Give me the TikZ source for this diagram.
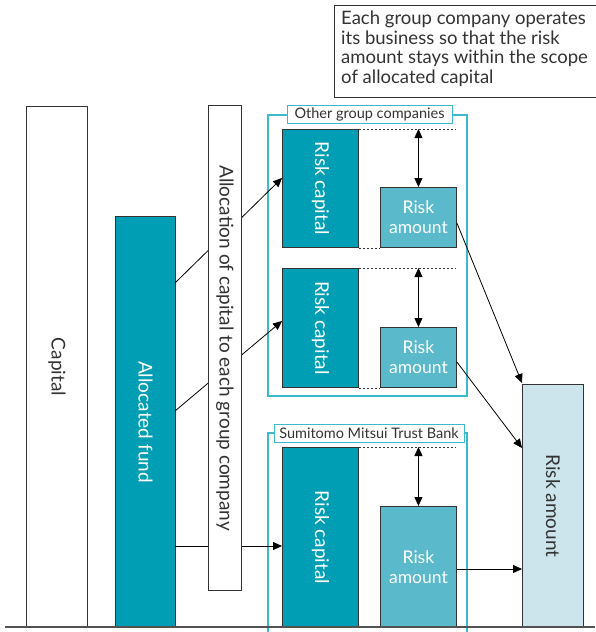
\documentclass[tikz,border=0pt]{standalone}
\usepackage{fontspec}
\setmainfont{Lato}
\usetikzlibrary{arrows.meta,calc}
\definecolor{teal}{HTML}{009EB4}
\definecolor{riskmid}{HTML}{5BB9CC}
\definecolor{risklight}{HTML}{CCE4EB}
\definecolor{framecyan}{HTML}{3DB9CE}
\definecolor{ink}{HTML}{333333}
\begin{document}
\begin{tikzpicture}[x=1pt,y=-1pt,
  bar/.style={draw=ink,line width=0.9pt,anchor=north west,inner sep=0pt},
  vtext/.style={rotate=-90,inner sep=0pt,font=\fontsize{19}{21}\selectfont},
  amounttext/.style={text=white,align=center,inner sep=0pt,font=\fontsize{17.5}{20}\selectfont},
  frame/.style={draw=framecyan,line width=2.2pt},
  tag/.style={draw=framecyan,line width=0.9pt,fill=white,text=ink,inner sep=1.5pt,
    font=\fontsize{14.5}{16}\selectfont,minimum height=18pt},
  guide/.style={draw=ink,line width=0.8pt,dash pattern=on 2pt off 2pt},
  tip/.style={-{Triangle[length=9pt,width=8pt]}},
  twotip/.style={{Triangle[length=9pt,width=8pt]}-{Triangle[length=9pt,width=8pt]}},
  link/.style={draw=black,line width=0.8pt},
]
\useasboundingbox (0,0) rectangle (595,632);

% callout in the top right corner
\draw[draw=ink,line width=0.9pt] (334,5) rectangle (600,97);
\node[anchor=north west,align=left,text=ink,inner sep=0pt,
  font=\fontsize{18.5}{19.5}\selectfont] (note) at (341,11)
  {Each group company operates\\its business so that the risk\\amount stays within the scope\\of allocated capital};

% company frames (drawn first so the tags sit on top)
\draw[frame] (268,115) rectangle (467,396);
\draw[frame] (268,433) rectangle (467,645);

% capital and allocated fund
\node[bar,fill=white,minimum width=61pt,minimum height=521pt] (capital) at (26,106) {};
\node[vtext,text=ink] (capitaltxt) at (capital.center) {Capital};
\node[bar,fill=teal,minimum width=60pt,minimum height=411pt] (fund) at (115,216) {};
\node[vtext,text=white] (fundtxt) at (fund.center) {Allocated fund};

% risk capital boxes
\node[bar,fill=teal,minimum width=76pt,minimum height=118pt] (rc1) at (282,129) {};
\node[vtext,text=white] (rc1txt) at (rc1.center) {Risk capital};
\node[bar,fill=teal,minimum width=76pt,minimum height=119pt] (rc2) at (282,268) {};
\node[vtext,text=white] (rc2txt) at (rc2.center) {Risk capital};
\node[bar,fill=teal,minimum width=76pt,minimum height=180pt] (rc3) at (282,447) {};
\node[vtext,text=white] (rc3txt) at (rc3.center) {Risk capital};

% risk amount boxes
\node[bar,fill=riskmid,minimum width=76pt,minimum height=60pt] (ra1) at (380,187) {};
\node[amounttext] (ra1txt) at (ra1.center) {Risk\\amount};
\node[bar,fill=riskmid,minimum width=76pt,minimum height=60pt] (ra2) at (380,327) {};
\node[amounttext] (ra2txt) at (ra2.center) {Risk\\amount};
\node[bar,fill=riskmid,minimum width=76pt,minimum height=121pt] (ra3) at (380,506) {};
\node[amounttext] (ra3txt) at (ra3.center) {Risk\\amount};

% total risk amount
\node[bar,fill=risklight,minimum width=61pt,minimum height=243pt] (total) at (522,384) {};
\node[vtext,text=ink] (totaltxt) at (total.center) {Risk amount};

% dotted guides from the top and bottom of each risk capital box
\coordinate (g1) at (455,129);
\coordinate (g2) at (455,268);
\coordinate (g3) at (455,447);
\draw[guide] (rc1.north east) -- (g1);
\draw[guide] (rc1.south east) -- (ra1.south west);
\draw[guide] (rc2.north east) -- (g2);
\draw[guide] (rc2.south east) -- (ra2.south west);
\draw[guide] (rc3.north east) -- (g3);

% headroom between risk capital and risk amount
\draw[link,twotip] (ra1.north |- g1) -- (ra1.north);
\draw[link,twotip] (ra2.north |- g2) -- (ra2.north);
\draw[link,twotip] (ra3.north |- g3) -- (ra3.north);

% allocation from the fund to each company
\coordinate (f1) at (175,283);
\coordinate (f2) at (175,411);
\coordinate (f3) at (175,546);
\draw[link,tip] (f1) -- (rc1.west |- 0,178);
\draw[link,tip] (f2) -- (rc2.west |- 0,321);
\draw[link,tip] (f3) -- (rc3.west |- f3);

% risk amounts add up into the total
\draw[link,tip] (ra1.east |- 0,223) -- (total.west |- 0,383);
\draw[link,tip] (ra2.east |- 0,362) -- (total.west |- 0,448);
\draw[link,tip] (ra3.east |- 0,569) -- (total.west |- 0,569);

% allocation column, drawn over the links that pass behind it
\node[bar,fill=white,minimum width=33pt,minimum height=485pt] (alloc) at (208,105) {};
\node[vtext,text=ink] (alloctxt) at (alloc.center) {Allocation of capital to each group company};

% frame tags
\node[tag,minimum width=165pt] (othertag) at (369.5,114) {Other group companies};
\node[tag,minimum width=190pt] (smtbtag) at (369,433) {Sumitomo Mitsui Trust Bank};

% ground line
\coordinate (gl) at (5,627);
\coordinate (gr) at (595,627);
\draw[draw=ink!85,line width=1.5pt] (gl) -- (gr);
\end{tikzpicture}
\end{document}
